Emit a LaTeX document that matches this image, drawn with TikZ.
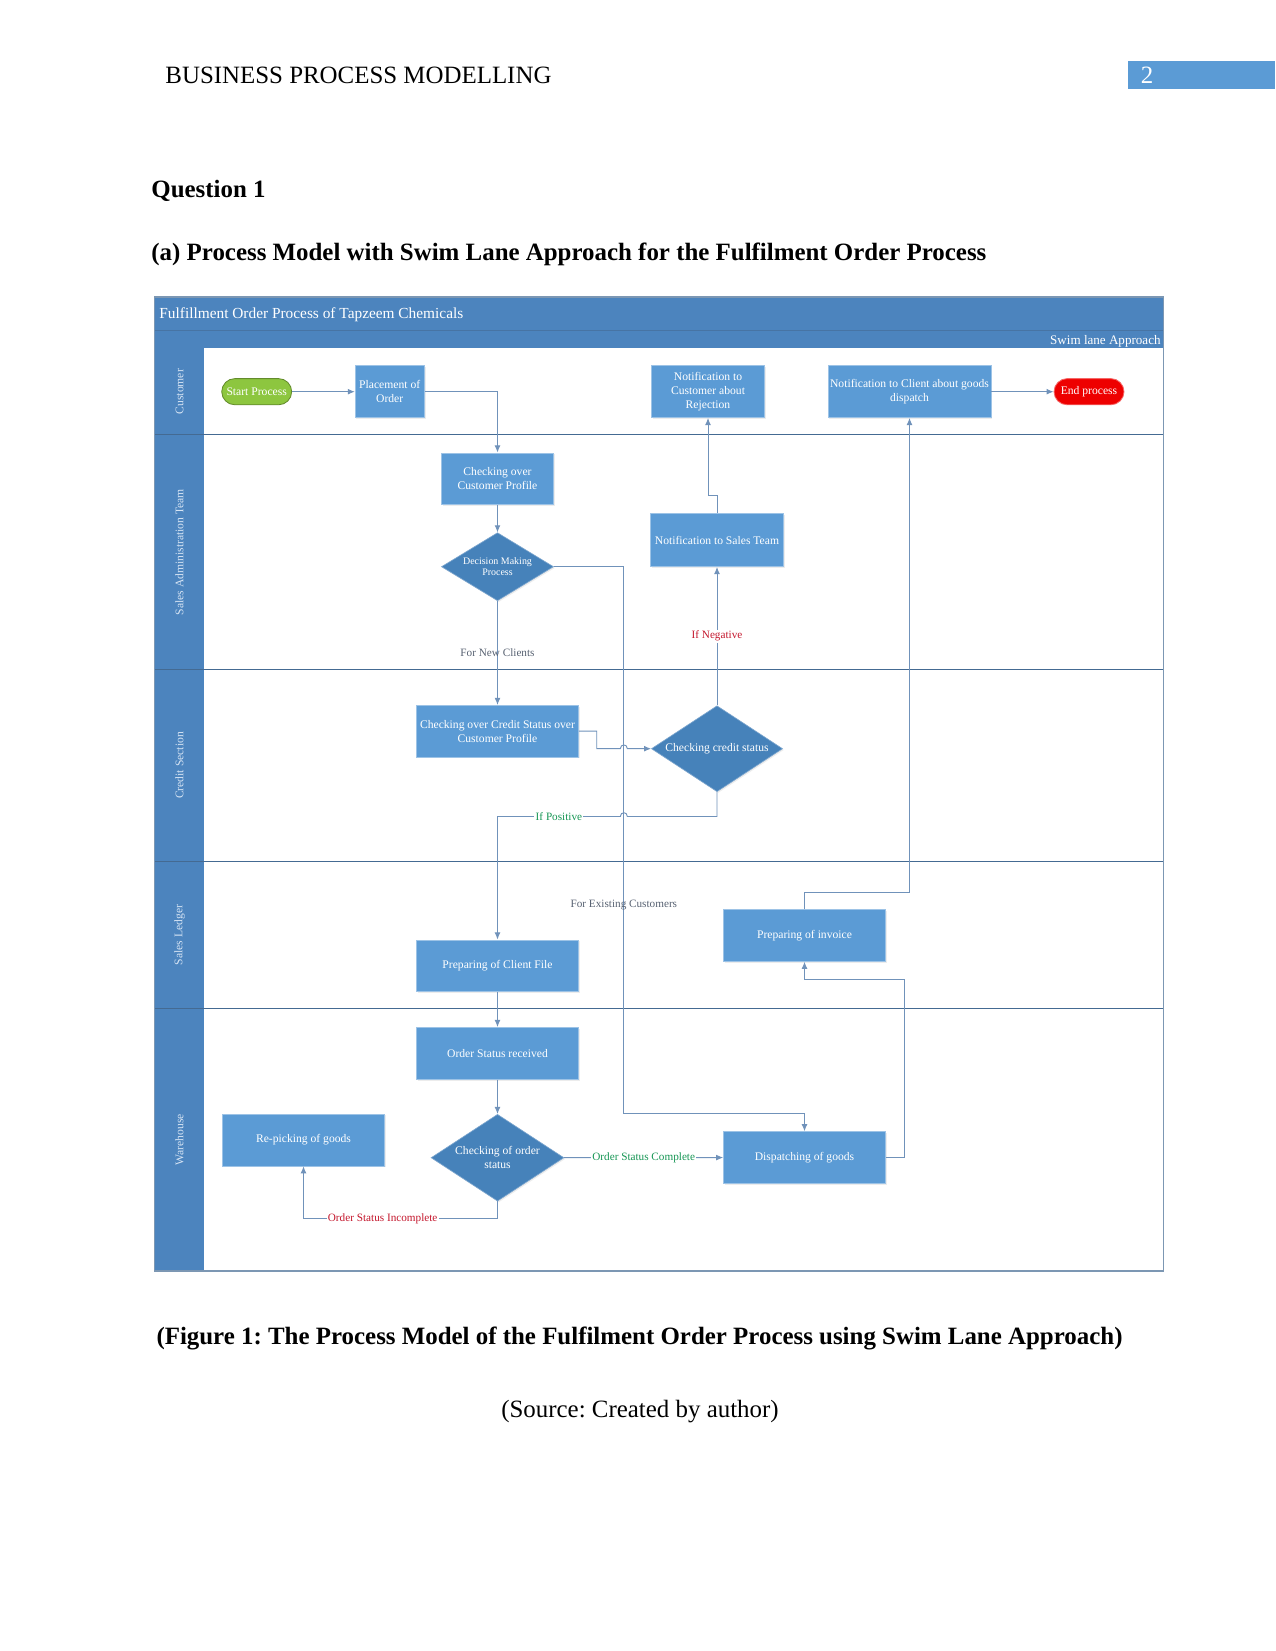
\documentclass[tikz,border=0pt]{standalone}
\usepackage{fontspec}
\setmainfont{Liberation Serif}
\usetikzlibrary{arrows.meta}
\usetikzlibrary{positioning}
\usetikzlibrary{calc}
\usetikzlibrary{shapes.geometric}
\usetikzlibrary{shadows}
\frenchspacing

\definecolor{laneblue}{RGB}{76,132,190}
\definecolor{boxblue}{RGB}{91,155,213}
\definecolor{diablue}{RGB}{70,130,186}
\definecolor{laneline}{RGB}{68,106,146}
\definecolor{flowline}{RGB}{112,146,186}
\definecolor{startgreen}{RGB}{141,198,63}
\definecolor{endred}{RGB}{238,0,0}
\definecolor{notegray}{RGB}{88,98,114}
\definecolor{nored}{RGB}{196,22,44}
\definecolor{yesgreen}{RGB}{22,150,84}
\definecolor{lanetext}{RGB}{214,228,244}

\newcommand{\boxfont}{\fontsize{5.6}{6.7}\selectfont}

\begin{document}
\begin{tikzpicture}[x=0.4818pt, y=-0.4818pt,
    page/.style={font=\fontsize{12}{14}\selectfont, anchor=base west, inner sep=0pt},
    proc/.style={rectangle, fill=boxblue, draw=boxblue!60!white, line width=0.3pt, text=white, font=\boxfont, align=center, inner sep=1pt, minimum height=25pt, drop shadow={opacity=0.15, shadow xshift=0.6pt, shadow yshift=-0.6pt}},
    wide/.style={proc, minimum width=78pt},
    decide/.style={diamond, fill=diablue, draw=diablue!70!white, line width=0.3pt, inner sep=0pt, drop shadow={opacity=0.15, shadow xshift=0.6pt, shadow yshift=-0.6pt}},
    dtext/.style={text=white, font=\boxfont, align=center, inner sep=0pt},
    terminal/.style={rectangle, rounded corners=6.3pt, text=white, font=\boxfont, minimum width=33.7pt, minimum height=12.6pt, inner sep=0pt, line width=0.4pt},
    flow/.style={draw=flowline, line width=0.45pt, -{Latex[length=3.4pt,width=2.8pt]}},
    note/.style={font=\fontsize{5.4}{6}\selectfont, text=notegray, inner sep=0.6pt},
    lanelabel/.style={rotate=90, text=lanetext, font=\fontsize{5.6}{6.6}\selectfont, inner sep=0pt}]

\useasboundingbox (0,0) rectangle (1275,1651);
\fill[white] (0,0) rectangle (1275,1651);

\node[page] (header) at (165,83.3) {BUSINESS PROCESS MODELLING};
\fill[boxblue] (1128,61) rectangle (1275,89);
\node[page, anchor=base, text=white] (pagenum) at (1147,83.3) {2};

\node[page, font=\fontsize{12}{14}\selectfont\bfseries] (question) at (151,198) {Question 1};
\node[page, font=\fontsize{12}{14}\selectfont\bfseries] (subhead) at (151,260.5) {(a) Process Model with Swim Lane Approach for the Fulfilment Order Process};

\fill[laneblue] (154.8,297) rectangle (1163.5,348.5);
\draw[laneline!60!laneblue, line width=0.6pt] (154.8,330.6) -- (1163.5,330.6);
\fill[laneblue] (154.8,348.5) rectangle (204.3,1271);
\foreach \y in {434.8,669.6,861.3,1008.7}
  \draw[laneline, line width=0.6pt] (154.8,\y) -- (1163.5,\y);
\draw[laneline!70!white, line width=0.5pt] (154.8,297) rectangle (1163.5,1271);

\node[anchor=west, inner sep=0pt, text=white, font=\fontsize{7.4}{9}\selectfont] (title) at (159,315) {Fulfillment Order Process of Tapzeem Chemicals};
\node[anchor=east, inner sep=0pt, text=white, font=\fontsize{6.3}{8}\selectfont] (approach) at (1161,341.5) {Swim lane Approach};

\node[lanelabel] (lcustomer) at (179.5,391.7) {Customer};
\node[lanelabel] (lsales) at (179.5,552.2) {Sales Administration Team};
\node[lanelabel] (lcredit) at (179.5,765.5) {Credit Section};
\node[lanelabel] (lledger) at (179.5,935) {Sales Ledger};
\node[lanelabel] (lwarehouse) at (179.5,1139.8) {Warehouse};

\node[terminal, fill=startgreen, draw=startgreen!70!black] (start) at (256.7,391.7) {Start Process};

\node[proc, minimum width=33.3pt] (placement) at (389.7,391.7) {Placement of\\Order};

\node[proc, minimum width=54.6pt] (notifcust) at (708,391.7) {Notification to\\Customer about\\Rejection};

\node[wide] (notifclient) at (909.5,391.7) {Notification to Client about goods\\dispatch};

\node[terminal, fill=endred, draw=endred!60!white] (finish) at (1089,391.7) {End process};

\node[proc, minimum width=54pt] (checkprof) at (497.5,478.8) {Checking over\\Customer Profile};

\node[decide, minimum width=54pt, minimum height=32.8pt] (decision) at (497.5,566.7) {};
\node[dtext, font=\fontsize{4.8}{5.6}\selectfont] (decisiontxt) at (decision) {Decision Making\\Process};

\node[proc, minimum width=64pt, minimum height=25.5pt] (notifsales) at (717,540.2) {Notification to Sales Team};

\node[wide] (creditprof) at (497.5,731.2) {Checking over Credit Status over\\Customer Profile};

\node[decide, minimum width=63.2pt, minimum height=41.4pt] (creditchk) at (717,748.7) {};
\node[dtext] (creditchktxt) at (creditchk) {Checking credit status};

\node[wide] (invoice) at (804.5,935.5) {Preparing of invoice};

\node[wide] (clientfile) at (497.5,965.8) {Preparing of Client File};

\node[wide] (received) at (497.5,1053.3) {Order Status received};

\node[decide, minimum width=64pt, minimum height=41.8pt] (orderchk) at (497.5,1157.7) {};
\node[dtext] (orderchktxt) at (orderchk) {Checking of order\\status};

\node[wide] (repick) at (303.5,1140) {Re-picking of goods};

\node[wide] (dispatch) at (804.5,1157.5) {Dispatching of goods};

\coordinate (trunk) at ($(decision.east)+(70,0)$);
\coordinate (drop) at ($(dispatch.north)+(0,-17.5)$);
\coordinate (jumpA) at ($(trunk |- creditchk.west)+(-3.5,0)$);
\coordinate (yesturn) at ($(creditchk.south)+(0,24.5)$);
\coordinate (jumpB) at ($(trunk |- yesturn)+(3.5,0)$);

\draw[flow] (start) -- (placement);
\draw[flow] (notifclient) -- (finish);
\draw[flow] (placement.east) -| (checkprof.north);
\draw[flow] (checkprof) -- (decision);
\draw[flow] (decision) -- node[note] {For New Clients} (creditprof);
\draw[flow] (decision.east) -- (trunk) -- node[note, pos=0.619] {For Existing Customers} (trunk |- drop) -- (drop) -- (dispatch.north);
\draw[flow] (creditprof.east) -- ++(18,0) |- (jumpA) .. controls ($(jumpA)+(0,-5)$) and ($(jumpA)+(7,-5)$) .. ($(jumpA)+(7,0)$) -- (creditchk.west);
\draw[flow] (creditchk.north) -- node[note, text=nored, fill=white] {If Negative} (notifsales.south);
\draw[flow] (notifsales.north) -- ++(0,-18) -| (notifcust.south);
\draw[flow] (creditchk.south) -- (yesturn) -- (jumpB) .. controls ($(jumpB)+(0,-5)$) and ($(jumpB)+(-7,-5)$) .. ($(jumpB)+(-7,0)$) -- node[note, text=yesgreen, fill=white] {If Positive} (clientfile.north |- yesturn) -- (clientfile.north);
\draw[flow] (clientfile) -- (received);
\draw[flow] (received) -- (orderchk);
\draw[flow] (orderchk) -- node[note, text=yesgreen, fill=white] {Order Status Complete} (dispatch);
\draw[flow] (orderchk.south) -- ++(0,17.3) -| node[note, text=nored, fill=white, pos=0.296] {Order Status Incomplete} (repick.south);
\draw[flow] (dispatch.east) -- ++(18.5,0) |- ($(invoice.south)+(0,17.5)$) -- (invoice.south);
\draw[flow] (invoice.north) -- ++(0,-16.5) -| (notifclient.south);

\node[page, anchor=base, font=\fontsize{12}{14}\selectfont\bfseries] (caption) at (639.5,1344) {(Figure 1: The Process Model of the Fulfilment Order Process using Swim Lane Approach)};
\node[page, anchor=base] (source) at (640,1417) {(Source: Created by author)};
\end{tikzpicture}
\end{document}
